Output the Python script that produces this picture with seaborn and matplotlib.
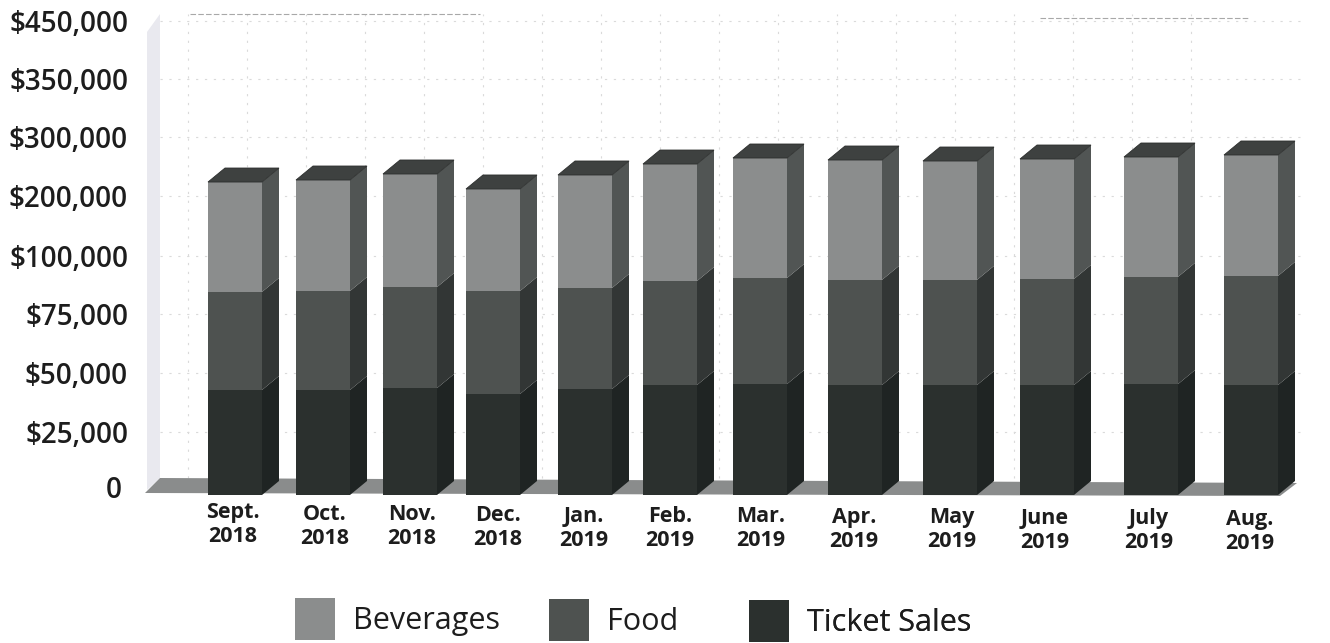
import numpy as np
import matplotlib
matplotlib.use("Agg")
import matplotlib.pyplot as plt
import seaborn as sns
from matplotlib.patches import Polygon, Patch
from matplotlib.transforms import Affine2D, IdentityTransform

# Monthly revenue by source, in dollars
months = ["Sept.\n2018", "Oct.\n2018", "Nov.\n2018", "Dec.\n2018", "Jan.\n2019", "Feb.\n2019",
          "Mar.\n2019", "Apr.\n2019", "May\n2019", "June\n2019", "July\n2019", "Aug.\n2019"]
ticket_sales = [42800, 42800, 43600, 41100, 43200, 44900, 45300, 44900, 44900, 44900, 45300, 44900]
food = [41700, 42100, 43000, 43800, 43000, 44300, 45200, 44800, 44800, 45200, 45700, 46500]
beverages = [139200, 142200, 150700, 127000, 149400, 165000, 173900, 171300, 169600, 172600, 175100, 178100]

# The value axis is printed with uneven steps
axis_ticks = [0, 25000, 50000, 75000, 100000, 200000, 300000, 350000, 450000]
axis_labels = ["0", "$25,000", "$50,000", "$75,000", "$100,000", "$200,000", "$300,000", "$350,000", "$450,000"]

# Layout, in figure pixels measured from the top left
W, H = 1330, 643
AX_LEFT, AX_BASE = 135, 495
tick_rows = [495, 432, 373, 314, 256, 196, 137, 79, 21]
bar_slots = [235, 323, 410, 493, 585, 670, 760, 855, 950, 1047, 1151, 1251]
label_slots = [233, 325, 412, 498, 584, 670, 761, 854, 952, 1045, 1149, 1250]
label_drift = [0, 2, 2, 3, 4, 4, 4, 5, 5, 6, 6, 7]
BAR_W = 54
DEPTH_X, DEPTH_Y = 17, 14

FRONT = {"bev": "#8b8d8d", "food": "#4e5250", "tix": "#2b302e"}
SIDE = {"bev": "#515554", "food": "#323635", "tix": "#1f2423"}
TOP = "#3e4140"
FLOOR = "#8a8c8c"
WALL = "#e9e9ef"
GRID = "#dadada"

sns.set_style("white")
plt.rcParams["font.family"] = ["Open Sans", "DejaVu Sans"]

fig = plt.figure(figsize=(W / 100, H / 100), dpi=100)
ax = fig.add_axes([AX_LEFT / W, (H - AX_BASE) / H, (W - AX_LEFT) / W, AX_BASE / H])

# Piecewise scale that spaces the printed ticks as they appear on the axis
knot_vals = np.array(axis_ticks + [500000], dtype=float)
knot_pos = np.array([H - r for r in tick_rows] + [H], dtype=float)


def forward(v):
    return np.interp(v, knot_vals, knot_pos, left=knot_pos[0] - 1, right=knot_pos[-1] + 1)


def inverse(p):
    return np.interp(p, knot_pos, knot_vals)


level_tix = np.array(ticket_sales, dtype=float)
level_food = level_tix + np.array(food)
level_bev = level_food + np.array(beverages)

slots = np.array(bar_slots, dtype=float)
bar_width = BAR_W / np.diff(slots).min()
for level, key in [(level_bev, "bev"), (level_food, "food"), (level_tix, "tix")]:
    sns.barplot(x=slots, y=level, native_scale=True, color=FRONT[key], saturation=1,
                width=bar_width, linewidth=0, ax=ax, zorder=4, errorbar=None)

ax.set_yscale("function", functions=(forward, inverse))
ax.set_xlim(AX_LEFT, W)
ax.set_ylim(0, 500000)
sns.despine(ax=ax, left=True, bottom=True)
ax.set_xlabel("")
ax.set_ylabel("")

# Back wall and floor of the 3D box
px = lambda x, y: (x, H - y)
flat = IdentityTransform()
ax.add_patch(Polygon([px(147, 490), px(160, 478), px(160, 14), px(147, 32)], closed=True,
                     facecolor=WALL, edgecolor="none", transform=flat, clip_on=False, zorder=1))
ax.add_patch(Polygon([px(145, 493), px(160, 478), px(1297, 483), px(1280, 496)], closed=True,
                     facecolor=FLOOR, edgecolor="none", transform=flat, clip_on=False, zorder=2))

# Broken grid on the wall
xaxis_tf = ax.get_xaxis_transform()
ax.vlines(np.arange(188, 1250, 59), (AX_BASE - 478) / AX_BASE, (AX_BASE - 14) / AX_BASE,
          colors=GRID, linewidth=0.8, linestyles=(0, (2, 6)), transform=xaxis_tf, zorder=1)
ax.hlines(axis_ticks[1:], 160, 1300, colors=GRID, linewidth=0.8, linestyles=(0, (2, 6)), zorder=1)
ax.add_line(plt.Line2D([190, 480], [H - 14, H - 14], color="#a8a8a8", lw=0.8, ls=(0, (5, 2)),
                       transform=flat, clip_on=False, zorder=1))
ax.add_line(plt.Line2D([1040, 1250], [H - 18, H - 18], color="#a8a8a8", lw=0.8, ls=(0, (5, 2)),
                       transform=flat, clip_on=False, zorder=1))

# Side and top faces follow the front rectangles drawn by seaborn
fig.canvas.draw()
to_px = ax.transData.transform
for i, x in enumerate(slots):
    x0, x1 = x - BAR_W / 2, x + BAR_W / 2
    lower = 0.0
    for level, key in [(level_tix, "tix"), (level_food, "food"), (level_bev, "bev")]:
        (xa, ya), (xb, yb) = to_px([(x0, lower), (x1, level[i])])
        ax.add_patch(Polygon([(xb, ya), (xb + DEPTH_X, ya + DEPTH_Y), (xb + DEPTH_X, yb + DEPTH_Y), (xb, yb)],
                             closed=True, facecolor=SIDE[key], edgecolor="none",
                             transform=flat, clip_on=False, zorder=4))
        lower = level[i]
    ax.add_patch(Polygon([(xa, yb), (xa + DEPTH_X, yb + DEPTH_Y), (xb + DEPTH_X, yb + DEPTH_Y), (xb, yb)],
                         closed=True, facecolor=TOP, edgecolor="#2c2e2d", linewidth=0.6,
                         transform=flat, clip_on=False, zorder=4))

# Tick labels
ax.set_yticks(axis_ticks, axis_labels)
ax.set_xticks(label_slots, months)
ax.tick_params(axis="y", length=0, pad=5, labelsize=20, colors="#1d1d1d")
ax.tick_params(axis="x", length=0, pad=5, labelsize=15.5, colors="#1d1d1d")
ax.minorticks_off()
for lab in ax.get_yticklabels():
    lab.set_fontweight(600)
for lab, drift in zip(ax.get_xticklabels(), label_drift):
    lab.set_fontweight("bold")
    lab.set_linespacing(1.18)
    lab.set_transform(lab.get_transform() + Affine2D().translate(0, -drift))
zero = ax.get_yticklabels()[0]
zero.set_transform(zero.get_transform() + Affine2D().translate(-6, 8))

# One legend per entry, since the entries sit at uneven distances
entries = [("Beverages", FRONT["bev"], 295, 598), ("Food", FRONT["food"], 549, 599),
           ("Ticket Sales", FRONT["tix"], 749, 600)]
for name, colour, lx, ly in entries:
    leg = ax.legend(handles=[Patch(facecolor=colour, edgecolor="none", label=name)],
                    loc="upper left", bbox_to_anchor=px(lx, ly), bbox_transform=flat,
                    frameon=False, fontsize=22, borderpad=0, borderaxespad=0,
                    handlelength=1.31, handleheight=1.74, handletextpad=0.58, labelcolor="#1d1d1d")
    ax.add_artist(leg)

fig.savefig("out.png", dpi=100)
